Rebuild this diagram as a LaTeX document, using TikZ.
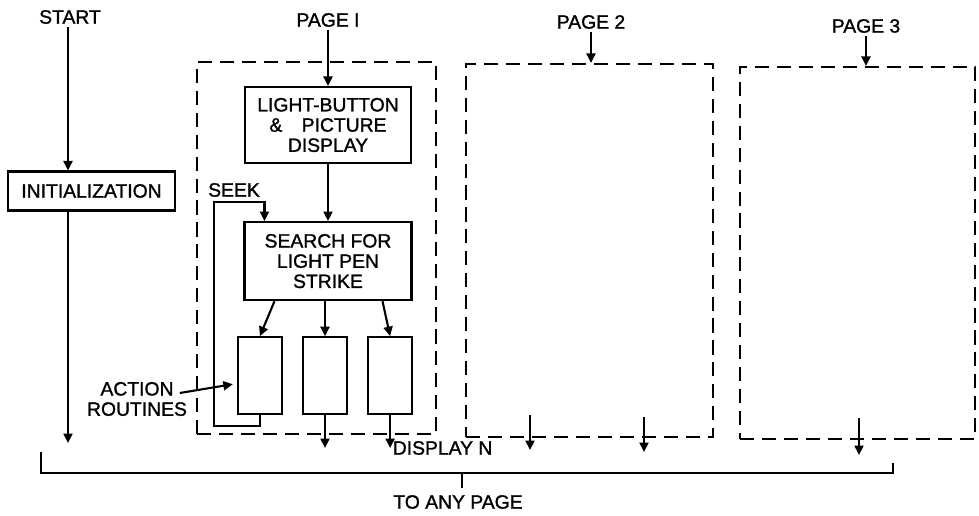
\documentclass[tikz,border=0pt]{standalone}
\usepackage{fontspec}
\setmainfont{Liberation Sans}[FakeBold=1.2]
\usepackage{tikz}
\usetikzlibrary{positioning,arrows.meta}

\begin{document}
\begin{tikzpicture}[line width=1.2pt, font=\fontsize{11}{11.5}\selectfont,
  blk/.style={draw, align=center, inner sep=2pt},
  act/.style={draw, minimum width=0.88cm, minimum height=1.54cm},
  pageframe/.style={draw, dash pattern=on 8pt off 4.5pt},
  flow/.style={-{Triangle[length=1.9mm,width=1.8mm]}},
  lbl/.style={inner sep=1pt}]
\useasboundingbox (0,0) rectangle (19.58,10.30);

\node[lbl] (start) at (1.40,9.96) {START};
\node[blk, minimum width=3.34cm, minimum height=0.78cm] (init) at (1.83,6.48) {INITIALIZATION};
\coordinate (initend) at (1.36,1.44);
\draw[flow] (start.south -| initend) -- (init.north -| initend);
\draw[flow] (init.south -| initend) -- (initend);

\node[lbl] (page1) at (6.56,9.90) {PAGE I};
\node[pageframe, minimum width=4.78cm, minimum height=7.44cm] (frame1) at (6.33,5.34) {};
\node[blk, minimum width=3.32cm, minimum height=1.52cm] (light) at (6.56,7.80) {LIGHT-BUTTON\\\&\quad PICTURE\\DISPLAY};
\node[blk, minimum width=3.34cm, minimum height=1.56cm, below=1.14cm of light] (search) {SEARCH FOR\\LIGHT PEN\\STRIKE};
\node[act, below=0.70cm of search, xshift=-0.06cm] (act2) {};
\node[act, left=0.38cm of act2] (act1) {};
\node[act, right=0.38cm of act2] (act3) {};
\draw[flow] (page1) -- (light);
\draw[flow] (light) -- (search);
\draw[flow] ([xshift=-1.07cm]search.south) -- (act1.north);
\draw[flow] (search.south -| act2) -- (act2);
\draw[flow] ([xshift=1.09cm]search.south) -- (act3.north);
\node[lbl] (seek) at (4.68,6.50) {SEEK};
\draw[flow] (act1.south) -- ++(0,-0.22) -| (4.28,6.26) -| ([xshift=0.42cm]search.north west);
\node[lbl, align=center] (routines) at (2.74,2.32) {ACTION\\ROUTINES};
\draw[flow] ([xshift=-0.2cm,yshift=0.12cm]routines.east) -- ([xshift=-0.08cm,yshift=-0.17cm]act1.west);
\node[lbl, anchor=west] (disp) at (7.80,1.34) {DISPLAY N};
\draw[flow] (act2) -- (act2 |- disp.west);
\draw[flow] (act3) -- (act3 |- disp.west);

\node[lbl] (page2) at (11.82,9.86) {PAGE 2};
\node[pageframe, minimum width=4.94cm, minimum height=7.46cm] (frame2) at (11.79,5.29) {};
\draw[flow] (page2) -- (page2 |- frame2.north);
\coordinate (p2a) at (10.60,2.00);
\coordinate (p2b) at (12.88,1.96);
\draw[flow] (p2a) -- ++(0,-0.70);
\draw[flow] (p2b) -- ++(0,-0.70);

\node[lbl] (page3) at (17.32,9.78) {PAGE 3};
\node[pageframe, minimum width=4.70cm, minimum height=7.44cm] (frame3) at (17.15,5.24) {};
\draw[flow] (page3) -- (page3 |- frame3.north);
\coordinate (p3a) at (17.18,1.94);
\draw[flow] (p3a) -- ++(0,-0.74);

\coordinate (brL) at (0.82,1.26);
\coordinate (brR) at (17.86,1.04);
\coordinate (brM) at (9.24,0.84);
\draw (brL) |- (brR |- brM) -- (brR);
\draw (brM) -- ++(0,-0.30);
\node[lbl] (anypage) at (9.16,0.26) {TO ANY PAGE};
\end{tikzpicture}
\end{document}
